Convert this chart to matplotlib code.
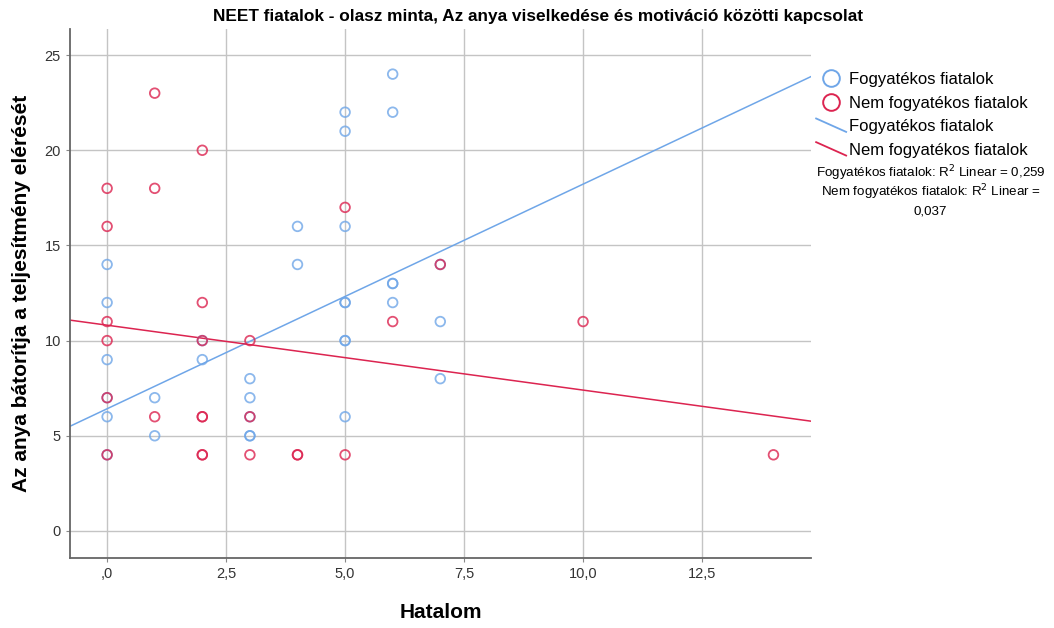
import numpy as np
import matplotlib
matplotlib.use("Agg")
import matplotlib.pyplot as plt
from matplotlib.lines import Line2D
from matplotlib.legend_handler import HandlerBase

plt.rcParams["font.family"] = ["Liberation Sans", "DejaVu Sans"]

# Fogyatekos fiatalok (blue)
blue_x = [0, 0, 0, 0, 0, 0, 1, 1, 2, 2, 3, 3, 3, 3, 3, 4, 4,
          5, 5, 5, 5, 5, 5, 5, 5, 6, 6, 6, 6, 6, 7, 7, 7]
blue_y = [14, 12, 9, 7, 6, 4, 7, 5, 10, 9, 8, 7, 6, 5, 5, 16, 14,
          22, 21, 16, 12, 12, 10, 10, 6, 24, 22, 13, 13, 12, 14, 11, 8]

# Nem fogyatekos fiatalok (red)
red_x = [0, 0, 0, 0, 0, 0, 1, 1, 1, 2, 2, 2, 2, 2, 2, 2,
         3, 3, 3, 4, 4, 5, 5, 6, 7, 10, 14]
red_y = [18, 16, 11, 10, 7, 4, 23, 18, 6, 20, 12, 10, 6, 6, 4, 4,
         10, 6, 4, 4, 4, 17, 4, 11, 14, 11, 4]

# linear fit lines: [intercept, slope]
blue_fit = [6.42, 1.18]
red_fit = [10.81, -0.341]

series_labels = ["Fogyatékos fiatalok", "Nem fogyatékos fiatalok"]
r2_lines = ["Fogyatékos fiatalok: R$^2$ Linear = 0,259",
            "Nem fogyatékos fiatalok: R$^2$ Linear =",
            "0,037"]
x_ticks = [0, 2.5, 5, 7.5, 10, 12.5]
x_tick_labels = [",0", "2,5", "5,0", "7,5", "10,0", "12,5"]
y_ticks = [0, 5, 10, 15, 20, 25]

COLOR_B = "#6fa6e8"
COLOR_R = "#dc2450"


class DiagLineHandler(HandlerBase):
    # SPSS style legend line: short descending diagonal
    def create_artists(self, legend, orig_handle, xdescent, ydescent,
                       width, height, fontsize, trans):
        line = Line2D([-xdescent, -xdescent + width],
                      [-ydescent + height * 1.1, -ydescent - height * 0.05],
                      color=orig_handle.get_color(),
                      linewidth=orig_handle.get_linewidth(), transform=trans)
        return [line]


fig = plt.figure(figsize=(10.54, 6.28), dpi=100)
ax = fig.add_axes([0.0664, 0.1115, 0.7031, 0.8423])

ax.scatter(blue_x, blue_y, s=48, facecolors="none", edgecolors=COLOR_B,
           linewidths=1.3, alpha=0.8, zorder=3)
ax.scatter(red_x, red_y, s=48, facecolors="none", edgecolors=COLOR_R,
           linewidths=1.3, alpha=0.8, zorder=3)

xlim = (-0.78, 14.79)
xs = np.array(xlim)
ax.plot(xs, blue_fit[0] + blue_fit[1] * xs, color=COLOR_B, linewidth=1.1, zorder=2)
ax.plot(xs, red_fit[0] + red_fit[1] * xs, color=COLOR_R, linewidth=1.1, zorder=2)

ax.set_xlim(*xlim)
ax.set_ylim(-1.42, 26.37)
ax.set_xticks(x_ticks)
ax.set_xticklabels(x_tick_labels)
ax.set_yticks(y_ticks)
ax.tick_params(labelsize=10.5, colors="#333333", length=3, color="#888888")
ax.grid(True, color="#c4c4c4", linewidth=1.0)
ax.set_axisbelow(True)
for side in ["top", "right"]:
    ax.spines[side].set_visible(False)
for side in ["left", "bottom"]:
    ax.spines[side].set_color("#666666")
    ax.spines[side].set_linewidth(1.3)

ax.set_xlabel("Hatalom", fontsize=15, fontweight="bold", labelpad=16)
ax.set_ylabel("Az anya bátorítja a teljesítmény elérését", fontsize=15,
              fontweight="bold", labelpad=10)
fig.text(0.51, 0.973, "NEET fiatalok - olasz minta, Az anya viselkedése és motiváció közötti kapcsolat",
         ha="center", va="center", fontsize=12.4, fontweight="bold")

handles = [
    Line2D([], [], linestyle="none", marker="o", markersize=12, markerfacecolor="none",
           markeredgecolor=COLOR_B, markeredgewidth=1.4),
    Line2D([], [], linestyle="none", marker="o", markersize=12, markerfacecolor="none",
           markeredgecolor=COLOR_R, markeredgewidth=1.4),
    Line2D([], [], color=COLOR_B, linewidth=1.3),
    Line2D([], [], color=COLOR_R, linewidth=1.3),
]
labels = series_labels + series_labels
handler_map = {handles[2]: DiagLineHandler(), handles[3]: DiagLineHandler()}
fig.legend(handles, labels, handler_map=handler_map, loc="upper left",
           bbox_to_anchor=(0.768, 0.896), frameon=False, fontsize=12,
           handlelength=1.8, handletextpad=0.2, labelspacing=0.52, borderaxespad=0)

for i, txt in enumerate(r2_lines):
    fig.text(0.883, 1 - (173 + 19 * i) / 628, txt, ha="center", va="center",
             fontsize=9.6)

fig.savefig("out.png", dpi=100)
